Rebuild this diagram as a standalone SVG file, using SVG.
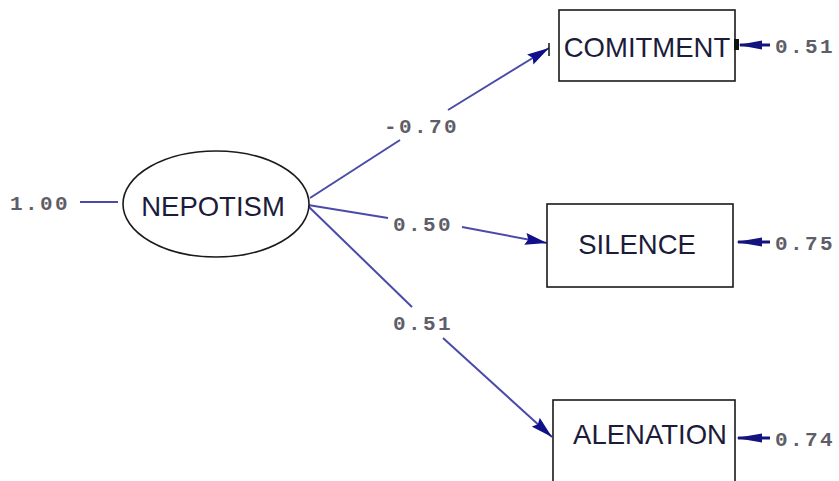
<svg xmlns="http://www.w3.org/2000/svg" width="839" height="481" viewBox="0 0 839 481">
<defs>
<marker id="ah" viewBox="0 0 22 12" refX="22" refY="6" markerWidth="22" markerHeight="12" markerUnits="userSpaceOnUse" orient="auto">
<path d="M0,0 L22,6 L0,12 L3,6 z" fill="#10108a"/>
</marker>
<style>
.node{fill:#fff;stroke:#1a1a1a;stroke-width:1.6}
.lbl{font-family:"Liberation Sans",Arial,sans-serif;font-size:27.5px;fill:#1c1c3a;text-anchor:middle}
.num{font-family:"Liberation Mono","Courier New",monospace;font-size:21px;font-weight:bold;fill:#5e5e68;letter-spacing:2.4px}
.path{stroke:#4a4aa8;stroke-width:2;fill:none}
.err{stroke:#14147f;stroke-width:3;fill:none}
</style>
</defs>
<rect width="839" height="481" fill="#fff"/>
<g id="connectors">
<line class="path" x1="80" y1="202" x2="118" y2="202"/>
<line class="path" x1="310" y1="198" x2="400" y2="140"/>
<line class="path" x1="448" y1="110" x2="549" y2="48" marker-end="url(#ah)"/>
<line x1="549" y1="43" x2="549" y2="56" stroke="#111" stroke-width="1.5"/>
<line class="path" x1="308" y1="205" x2="388" y2="218"/>
<line class="path" x1="462" y1="227" x2="547" y2="243" marker-end="url(#ah)"/>
<line class="path" x1="308" y1="206" x2="412" y2="307"/>
<line class="path" x1="443" y1="338" x2="552" y2="437" marker-end="url(#ah)"/>
<line x1="728" y1="237" x2="728" y2="246" stroke="#777" stroke-width="1.2"/>
<line class="err" x1="770" y1="45" x2="740" y2="45"/>
<polygon points="738,45 762,40.5 762,49.5" fill="#14147f"/>
<line class="err" x1="770" y1="242" x2="738" y2="242"/>
<polygon points="736,242 762,237.5 762,246.5" fill="#14147f"/>
<line class="err" x1="770" y1="438" x2="738" y2="438"/>
<polygon points="736,438 762,433.5 762,442.5" fill="#14147f"/>
</g>
<g id="nepotism">
<ellipse class="node" cx="216" cy="204" rx="93" ry="53"/>
<text class="lbl" x="213" y="216">NEPOTISM</text>
</g>
<g id="comitment">
<rect class="node" x="559" y="10" width="176" height="71"/>
<rect x="734" y="39" width="5" height="11" fill="#111"/>
<text class="lbl" x="647" y="57">COMITMENT</text>
</g>
<g id="silence">
<rect class="node" x="547" y="204" width="186" height="83"/>
<text class="lbl" x="637" y="254">SILENCE</text>
</g>
<g id="alenation">
<rect class="node" x="553" y="400" width="182" height="90"/>
<text class="lbl" x="650" y="444">ALENATION</text>
</g>
<g id="labels">
<text class="num" x="10" y="210">1.00</text>
<text class="num" x="384" y="133">-0.70</text>
<text class="num" x="393" y="231">0.50</text>
<text class="num" x="393" y="330">0.51</text>
<text class="num" x="775" y="53">0.51</text>
<text class="num" x="775" y="250">0.75</text>
<text class="num" x="775" y="446">0.74</text>
</g>
</svg>
